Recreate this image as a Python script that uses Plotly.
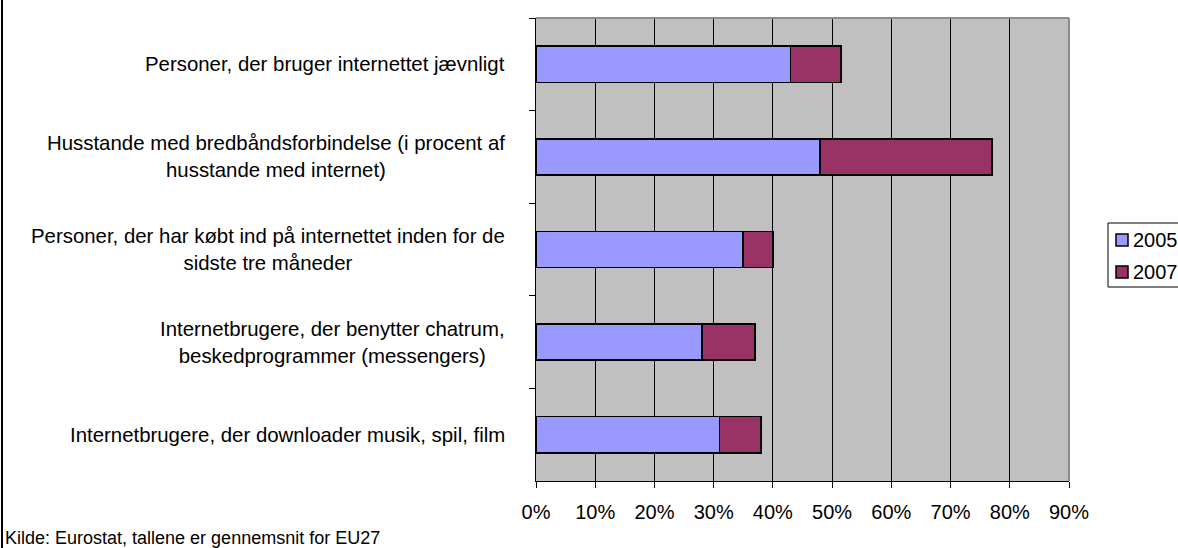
import plotly.graph_objects as go

categories = [
    "Personer, der bruger internettet jævnligt",
    "Husstande med bredbåndsforbindelse (i procent af<br>husstande med internet)",
    "Personer, der har købt ind på internettet inden for de<br>sidste tre måneder",
    "Internetbrugere, der benytter chatrum,<br>beskedprogrammer (messengers)",
    "Internetbrugere, der downloader musik, spil, film",
]
series_names = ["2005", "2007"]
values_2005 = [43, 48, 35, 28, 31]
values_2007 = [8.5, 29, 5, 9, 7]
x_ticks = [0, 10, 20, 30, 40, 50, 60, 70, 80, 90]
x_tick_labels = ["0%", "10%", "20%", "30%", "40%", "50%", "60%", "70%", "80%", "90%"]
source_text = "Kilde: Eurostat, tallene er gennemsnit for EU27"

colors = ["#9999FF", "#993366"]
FONT = "Liberation Sans, Arial, sans-serif"

W, H = 1178, 548
L, R, T, B = 536, 109, 18, 67
pw = W - L - R
ph = H - T - B

def px_x(px):
    return (px - L) / pw

def px_y(py):
    return (H - B - py) / ph

fig = go.Figure()
for name, vals, col in zip(series_names, [values_2005, values_2007], colors):
    fig.add_trace(go.Bar(
        y=categories, x=vals, name=name, orientation="h",
        marker=dict(color=col, line=dict(color="black", width=1.6)),
        width=0.39, showlegend=False,
    ))

fig.update_layout(
    width=W, height=H,
    margin=dict(l=L, r=R, t=T, b=B, pad=0),
    barmode="stack",
    plot_bgcolor="#C0C0C0",
    paper_bgcolor="white",
    font=dict(family=FONT, size=20, color="black"),
)
fig.update_xaxes(
    range=[0, 90], tickvals=x_ticks, ticktext=x_tick_labels,
    showgrid=True, gridcolor="black", gridwidth=1,
    showline=True, linecolor="black", linewidth=1,
    ticks="outside", ticklen=6, tickcolor="black", tickwidth=1,
    ticklabelstandoff=7, zeroline=False,
    tickfont=dict(family=FONT, size=20, color="black"),
)
fig.update_yaxes(
    autorange="reversed", type="category",
    showticklabels=False, showgrid=False,
    showline=True, linecolor="black", linewidth=1,
    ticks="outside", ticklen=6, tickcolor="black", tickwidth=1,
    tickson="boundaries", zeroline=False,
)

shapes = []
# plot border (top / right, gray)
shapes.append(dict(type="line", xref="paper", yref="paper", x0=0, x1=1, y0=1, y1=1,
                   line=dict(color="#8C8C8C", width=2), layer="above"))
shapes.append(dict(type="line", xref="paper", yref="paper", x0=1, x1=1, y0=0, y1=1,
                   line=dict(color="#8C8C8C", width=2), layer="above"))
# chart-area border at left edge
shapes.append(dict(type="line", xref="paper", yref="paper", x0=px_x(2), x1=px_x(2),
                   y0=px_y(-5), y1=px_y(H + 5), line=dict(color="black", width=2)))
# legend box
shapes.append(dict(type="rect", xref="paper", yref="paper",
                   x0=px_x(1108), x1=px_x(1200), y0=px_y(287), y1=px_y(223),
                   line=dict(color="black", width=1), fillcolor="white"))
legend_y = [240, 272]
annotations = []
for name, col, ly in zip(series_names, colors, legend_y):
    shapes.append(dict(type="rect", xref="paper", yref="paper",
                       x0=px_x(1116), x1=px_x(1128), y0=px_y(ly + 6), y1=px_y(ly - 6),
                       line=dict(color="black", width=1.5), fillcolor=col))
    annotations.append(dict(text=name, xref="paper", yref="paper",
                            x=px_x(1131), y=px_y(ly), xanchor="left", yanchor="middle",
                            showarrow=False, font=dict(family=FONT, size=20, color="black")))

for cat in categories:
    annotations.append(dict(text=cat, xref="paper", yref="y", x=0, y=cat,
                            xanchor="right", yanchor="middle", xshift=-29,
                            align="center", showarrow=False,
                            font=dict(family=FONT, size=20.4, color="black")))

annotations.append(dict(text=source_text, xref="paper", yref="paper",
                        x=px_x(3), y=px_y(538), xanchor="left", yanchor="middle",
                        showarrow=False, font=dict(family=FONT, size=18, color="black")))

fig.update_layout(shapes=shapes, annotations=annotations)
fig.write_html(
    "out.html",
    config={"displayModeBar": False},
    post_script="document.body.style.margin='0';document.body.style.padding='0';document.body.style.overflow='hidden';",
)
